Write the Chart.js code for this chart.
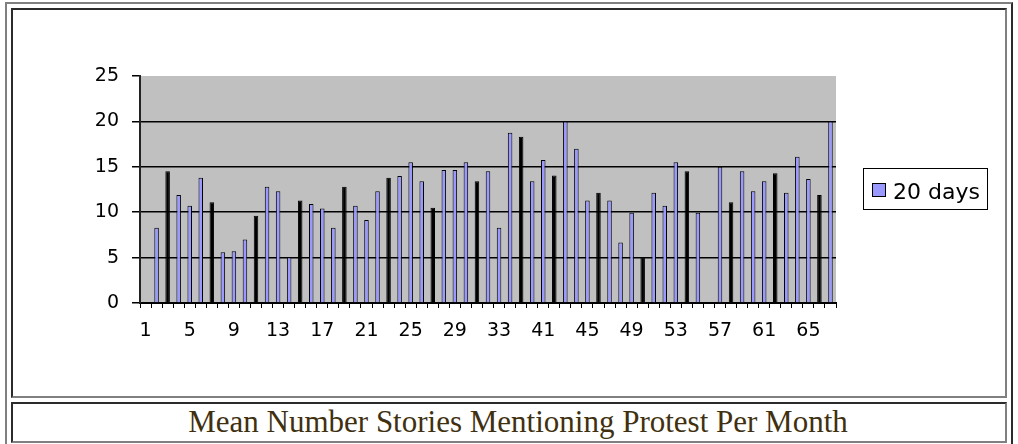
<!DOCTYPE html>
<html>
<head>
<meta charset="utf-8">
<title>Mean Number Stories Mentioning Protest Per Month</title>
<script src="https://cdn.jsdelivr.net/npm/chart.js@4.4.1/dist/chart.umd.min.js"></script>
<style>
  html, body { margin: 0; padding: 0; background: #fff; }
  body { width: 1018px; height: 444px; position: relative; overflow: hidden; }
  .outer, .cell { position: absolute; box-sizing: border-box; border: 2px solid; }
  .outer { left: 5px; top: 2px; width: 1008px; height: 470px; border-color: #808080 #2b2b2b #2b2b2b #808080; }
  .cell { left: 11px; width: 996px; border-color: #2b2b2b #808080 #808080 #2b2b2b; }
  #chartCell { top: 8px; height: 390px; }
  #captionCell { top: 402px; height: 41px; }
  #caption {
    position: absolute; left: 11px; top: 402px; width: 996px; height: 41px;
    box-sizing: border-box; padding-left: 18px;
    line-height: 40px; text-align: center;
    font-family: "Liberation Serif", "Times New Roman", serif; font-size: 31px; color: #403010;
  }
  #chart { position: absolute; left: 0; top: 0; }
</style>
</head>
<body>
<div class="outer"></div>
<div class="cell" id="chartCell"></div>
<div class="cell" id="captionCell"></div>
<div id="caption">Mean Number Stories Mentioning Protest Per Month</div>
<canvas id="chart" width="1018" height="444"></canvas>

<script>
// month numbers on the category axis (34-37 are not in the sheet)
const months = [
  1, 2, 3, 4, 5, 6, 7, 8, 9, 10, 11, 12, 13, 14, 15, 16, 17, 18, 19, 20,
  21, 22, 23, 24, 25, 26, 27, 28, 29, 30, 31, 32, 33,
  38, 39, 40, 41, 42, 43, 44, 45, 46, 47, 48, 49, 50, 51, 52, 53, 54, 55,
  56, 57, 58, 59, 60, 61, 62, 63, 64, 65, 66, 67
];

// mean stories per month, 20 day window (null = no value)
const meanStories = [
  null, 8.3, 14.5, 11.9, 10.7, 13.8, 11.1, 5.6, 5.7, 7.0,
  9.6, 12.8, 12.3, 5.05, 11.3, 10.9, 10.4, 8.3, 12.8, 10.7,
  9.15, 12.3, 13.8, 14.0, 15.5, 13.4, 10.5, 14.65, 14.65, 15.5,
  13.4, 14.5, 8.3, 18.75, 18.3, 13.4, 15.75, 14.05, 20.0, 17.0,
  11.3, 12.15, 11.3, 6.65, 9.95, 5.05, 12.15, 10.7, 15.5, 14.5,
  9.95, null, 15.0, 11.1, 14.5, 12.3, 13.4, 14.3, 12.15, 16.1,
  13.65, 11.9, 20.0
];

const seriesName = '20 days';
const yTickValues = [0, 5, 10, 15, 20, 25];

// bars that come out solid black in the old excel picture (1-based category)
const darkBars = [3, 7, 11, 15, 19, 23, 27, 31, 35, 38, 42, 46, 50, 54, 58, 62];

const barBlue = '#9999ff';
const plotGrey = '#c0c0c0';
const axisFont = { family: 'DejaVu Sans', size: 19 };

const plotBackground = {
  id: 'plotBackground',
  beforeDraw(chart) {
    const a = chart.chartArea;
    const ctx = chart.ctx;
    ctx.save();
    ctx.fillStyle = plotGrey;
    ctx.fillRect(a.left, a.top, a.right - a.left, a.bottom - a.top);
    ctx.restore();
  }
};

// excel style legend: white box with a black frame
const boxedLegend = {
  id: 'boxedLegend',
  afterDraw(chart) {
    const a = chart.chartArea;
    const ctx = chart.ctx;
    const w = 124, h = 41;
    const left = Math.round(a.right + 27);
    const top = Math.round((a.top + a.bottom) / 2 - h / 2) - 1;
    ctx.save();
    ctx.fillStyle = '#fff';
    ctx.fillRect(left, top, w, h);
    ctx.strokeStyle = '#000';
    ctx.lineWidth = 1;
    ctx.strokeRect(left + 0.5, top + 0.5, w, h);
    ctx.fillStyle = barBlue;
    ctx.fillRect(left + 9, top + 15, 13, 13);
    ctx.strokeRect(left + 9.5, top + 15.5, 13, 13);
    ctx.fillStyle = '#000';
    ctx.font = '22px "DejaVu Sans"';
    ctx.textBaseline = 'alphabetic';
    ctx.fillText(chart.data.datasets[0].label, left + 30, top + 31);
    ctx.restore();
  }
};

const chart = new Chart(document.getElementById('chart'), {
  type: 'bar',
  data: {
    labels: months,
    datasets: [{
      label: seriesName,
      data: meanStories,
      backgroundColor: ctx => darkBars.includes(ctx.dataIndex + 1) ? '#000' : barBlue,
      borderColor: '#000',
      borderWidth: 1,
      barPercentage: 0.41,
      categoryPercentage: 1
    }]
  },
  options: {
    responsive: false,
    animation: false,
    devicePixelRatio: 1,
    layout: { padding: { left: 80, right: 182, top: 76, bottom: 101 } },
    plugins: {
      legend: { display: false },
      tooltip: { enabled: false }
    },
    scales: {
      x: {
        offset: true,
        grid: {
          offset: true,
          drawOnChartArea: false,
          tickLength: 5,
          color: '#000',
          lineWidth: 1
        },
        border: { color: '#000', width: 2 },
        ticks: {
          autoSkip: false,
          maxRotation: 0,
          padding: 12,
          color: '#000',
          font: axisFont,
          callback: (v, i) => (i % 4 === 0 ? String(months[i]) : '')
        },
        afterFit: s => { s.height = 40; }
      },
      y: {
        min: 0,
        max: 25,
        afterBuildTicks: s => { s.ticks = yTickValues.map(v => ({ value: v })); },
        ticks: { padding: 13, color: '#000', font: axisFont },
        grid: {
          color: ctx => (ctx.tick && ctx.tick.value === 25 ? 'rgba(0,0,0,0)' : '#000'),
          tickColor: '#000',
          tickLength: 8,
          lineWidth: 1.5
        },
        border: { color: '#222', width: 2 },
        afterFit: s => { s.width = 60; }
      }
    }
  },
  plugins: [plotBackground, boxedLegend]
});
</script>
</body>
</html>
